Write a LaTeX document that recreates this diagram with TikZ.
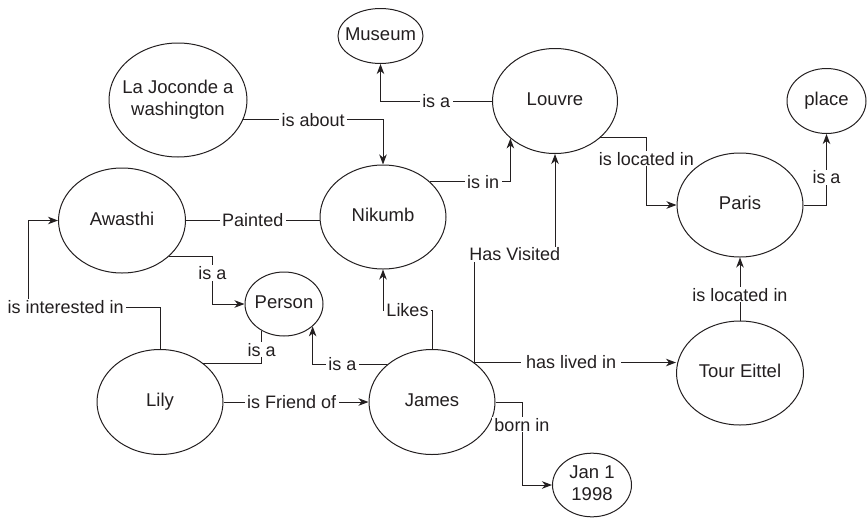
\documentclass[tikz,border=0pt]{standalone}
\usepackage{fontspec}
\setmainfont{Liberation Sans}
\usetikzlibrary{arrows.meta,shapes.geometric}
\definecolor{ink}{RGB}{35,31,32}
% concept text is set in a zero-width box so the ellipse size is fixed by the style
\newcommand\conceptlabel[1]{\makebox[0pt]{\begin{tabular}{@{}c@{}}#1\end{tabular}}}
\begin{document}
\begin{tikzpicture}[x=1pt,y=-1pt,
  concept/.style={draw=ink, line width=1pt, ellipse, inner sep=0pt,
    text=ink, font=\fontsize{18.5}{22.5}\selectfont},
  rel/.style={draw=ink, line width=1pt},
  arr/.style={rel, -{Stealth[length=10pt,width=7.5pt,inset=3pt]}},
  lbl/.style={fill=white, inner xsep=2.5pt, inner ysep=1pt, text=ink,
    font=\fontsize{18}{22.5}\selectfont}
]
\useasboundingbox (0,0) rectangle (867,517);

% concepts
\node[concept, minimum width=85pt,  minimum height=55pt]  (museum)  at (380.5,36) {\conceptlabel{Museum}};
\node[concept, minimum width=138pt, minimum height=114pt] (joconde) at (178,100)  {\conceptlabel{La Joconde a\\washington}};
\node[concept, minimum width=125pt, minimum height=105pt] (louvre)  at (555,101)  {\conceptlabel{Louvre}};
\node[concept, minimum width=79pt,  minimum height=65pt]  (place)   at (826.5,101) {\conceptlabel{place}};
\node[concept, minimum width=127pt, minimum height=105pt] (awasthi) at (122,220.5) {\conceptlabel{Awasthi}};
\node[concept, minimum width=126pt, minimum height=104pt] (nikumb)  at (383,217)  {\conceptlabel{Nikumb}};
\node[concept, minimum width=126pt, minimum height=104pt] (paris)   at (740,205)  {\conceptlabel{Paris}};
\node[concept, minimum width=78pt,  minimum height=64pt]  (person)  at (284,304)  {\conceptlabel{Person}};
\node[concept, minimum width=126pt, minimum height=105pt] (lily)    at (160,402)  {\conceptlabel{Lily}};
\node[concept, minimum width=126pt, minimum height=105pt] (james)   at (432,402)  {\conceptlabel{James}};
\node[concept, minimum width=127pt, minimum height=104pt] (tour)    at (740,373)  {\conceptlabel{Tour Eittel}};
\node[concept, minimum width=79pt,  minimum height=63pt]  (jan)     at (592,485)  {\conceptlabel{Jan 1\\1998}};

% relations
\draw[arr] (louvre.west) -| node[lbl,pos=0.25]{is a} (museum.south);
\draw[arr] (joconde.-17) -| node[lbl,pos=0.25]{is about} (nikumb.north);
\draw[rel] (awasthi.east) -- node[lbl]{Painted} (awasthi.east -| nikumb.west);
\draw[arr] (nikumb.37) -| node[lbl,pos=0.33]{is in} (louvre.220);
\draw[arr] (louvre.-39) -| node[lbl,pos=0.655]{is located in} ([xshift=-30pt]paris.west) -- (paris.west);
\draw[arr] (paris.east) -| node[lbl,pos=0.695]{is a} (place.south);
\draw[arr] (tour.north) -- node[lbl,pos=0.41]{is located in} (paris.south);
\draw[arr] (james.43) -- node[lbl,pos=0.48,inner xsep=5pt]{has lived in} (james.43 -| tour.west);
\draw[arr] (james.43) -- ++(0,-108) -| node[lbl,pos=0.25]{Has Visited} (louvre.south);
\draw[arr] (james.north) -- ++(0,-39) -| node[lbl,pos=0.25]{Likes} (nikumb.south);
\draw[arr] (james.140) -| node[lbl,pos=0.30]{is a} (person.-38);
\draw[rel] (lily.42) -| node[lbl,pos=0.705]{is a} (person.230);
\draw[arr] (awasthi.-37) -| node[lbl,pos=0.677]{is a} ([xshift=-32pt]person.west) -- (person.west);
\draw[arr] (lily.north) -- ++(0,-42) -| node[lbl,pos=0.357]{is interested in} ([xshift=-30pt]awasthi.west) -- (awasthi.west);
\draw[arr] (lily.east) -- node[lbl,pos=0.47]{is Friend of} (james.west);
\draw[arr] (james.east) -| node[lbl,pos=0.637]{born in} ([xshift=-30pt]jan.west) -- (jan.west);
\end{tikzpicture}
\end{document}
